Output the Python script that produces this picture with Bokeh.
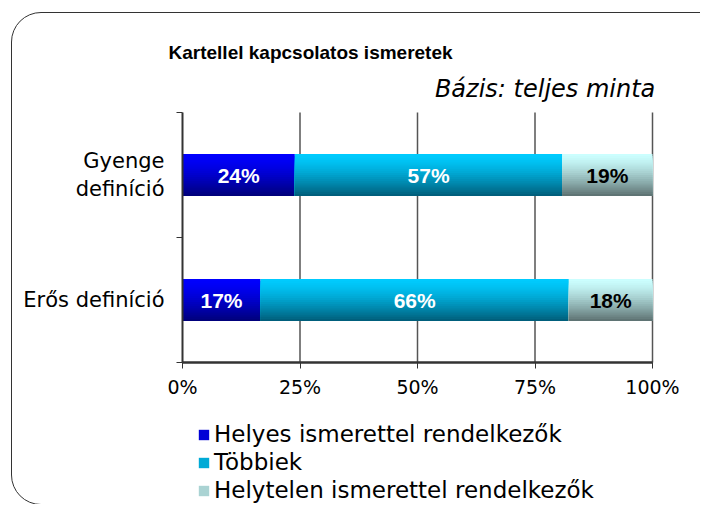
from bokeh.plotting import figure
from bokeh.models import (FixedTicker, Legend, LegendItem, ColumnDataSource, Label, InlineStyleSheet)
from bokeh.core.properties import value
from bokeh.embed import file_html
from bokeh.resources import INLINE

# ---- data ----
categories = ["Erős definíció", "Gyenge\ndefiníció"]
cat_pos = [0.5, 1.5]
helyes = [16.6, 23.9]
tobbiek = [65.6, 56.9]
helytelen = [17.8, 19.2]
series_names = ["Helyes ismerettel rendelkezők", "Többiek", "Helytelen ismerettel rendelkezők"]
x_ticks = [0, 25, 50, 75, 100]
x_tick_labels = ["0%", "25%", "50%", "75%", "100%"]
title_text = "Kartellel kapcsolatos ismeretek"
subtitle_text = "Bázis: teljes minta"

# ---- layout / style ----
W, H = 700, 504
PX_PER_X = 4.7      # pixels per percent
PX_PER_Y = 125.0    # pixels per category band
X0_PX, Y0_PX = 182, 362   # canvas position of the (0%, bottom) corner of the bar area
x_range = (-X0_PX / PX_PER_X, (W - X0_PX) / PX_PER_X)
y_range = (-(H - Y0_PX) / PX_PER_Y, Y0_PX / PX_PER_Y)

FONT = "DejaVu Sans"
BOLD_FONT = "Liberation Sans"
grad = [((0x00, 0x00, 0xFF), (0x00, 0x00, 0x78)),
        ((0x00, 0xCC, 0xFF), (0x00, 0x5C, 0x78)),
        ((0xCC, 0xFF, 0xFF), (0x5C, 0x70, 0x70))]
label_colors = ["white", "white", "black"]
BAR_H = 0.336
NSTRIP = 20

border_css = InlineStyleSheet(css="""
:host { overflow: hidden; }
:host::after {
  content: ''; position: absolute; left: 11px; top: 12px; width: 760px; height: 493px;
  border: 1.5px solid #333333; border-radius: 30px; box-sizing: border-box; pointer-events: none;
}
""")

p = figure(width=W, height=H, output_backend="svg", toolbar_location=None,
           x_range=x_range, y_range=y_range, min_border=0,
           min_border_left=0, min_border_right=0, min_border_top=0, min_border_bottom=0)
p.stylesheets = [border_css]
p.outline_line_color = None
p.background_fill_color = "white"
p.border_fill_color = "white"

# x axis at y = 0, spanning 0..100 %
p.xaxis.fixed_location = 0
p.xaxis.bounds = (0, 100)
p.xaxis.ticker = FixedTicker(ticks=x_ticks)
p.xaxis.major_label_overrides = {t: l for t, l in zip(x_ticks, x_tick_labels)}
p.xaxis.major_label_text_font = FONT
p.xaxis.major_label_text_font_size = "19px"
p.xaxis.major_label_text_color = "black"
p.xaxis.major_tick_out = 6
p.xaxis.major_tick_in = 0
p.xaxis.minor_tick_line_color = None
p.xaxis.axis_line_color = "#333333"
p.xaxis.axis_line_width = 2
p.xaxis.major_tick_line_color = "#333333"
p.xaxis.major_label_standoff = 7

# y axis at x = 0, spanning the two category bands
p.yaxis.fixed_location = 0
p.yaxis.bounds = (0, 2)
p.yaxis.ticker = FixedTicker(ticks=cat_pos, minor_ticks=[0, 1, 2])
p.yaxis.major_label_overrides = {t: l for t, l in zip(cat_pos, categories)}
p.yaxis.major_label_text_font = FONT
p.yaxis.major_label_text_font_size = "21px"
p.yaxis.major_label_text_color = "black"
p.yaxis.major_tick_out = 0
p.yaxis.major_tick_in = 0
p.yaxis.minor_tick_out = 6
p.yaxis.minor_tick_in = 0
p.yaxis.minor_tick_line_color = "#333333"
p.yaxis.axis_line_color = "#333333"
p.yaxis.axis_line_width = 2
p.yaxis.major_label_standoff = 12

p.xgrid.grid_line_color = None
p.ygrid.grid_line_color = None
# vertical gridlines only over the bar area (y 0..2)
p.segment(x0=x_ticks[1:], x1=x_ticks[1:], y0=[0] * 4, y1=[2] * 4,
          line_color="#555555", line_width=1.5)
# category-axis baseline along y = 0 (reinforces the x axis line)
p.segment(x0=[x_ticks[0]], x1=[x_ticks[-1]], y0=[0], y1=[0],
          line_color="#333333", line_width=2)

# stacked bars drawn as vertical-gradient strips (overlapping layers, no seams)
series = [helyes, tobbiek, helytelen]
lefts = [0.0] * len(cat_pos)
legend_items = []
for si, vals in enumerate(series):
    rights = [l + v for l, v in zip(lefts, vals)]
    (r0, g0, b0), (r1, g1, b1) = grad[si]
    leg_r = None
    for k in range(NSTRIP):
        t = (k + 0.5) / NSTRIP
        tt = t ** 1.4
        col = "#%02x%02x%02x" % (int(r0 + (r1 - r0) * tt), int(g0 + (g1 - g0) * tt), int(b0 + (b1 - b0) * tt))
        top_off = BAR_H / 2 - k * BAR_H / NSTRIP
        h = top_off + BAR_H / 2
        ys = [c + top_off - h / 2 for c in cat_pos]
        r = p.hbar(y=ys, left=lefts, right=rights, height=h, fill_color=col, line_color=None)
        if k == NSTRIP // 2 - 2:
            leg_r = r
    legend_items.append(LegendItem(label=series_names[si], renderers=[leg_r]))
    src = ColumnDataSource(dict(x=[(l + r) / 2 for l, r in zip(lefts, rights)], y=cat_pos,
                                t=["%d%%" % round(v) for v in vals]))
    p.text(x="x", y="y", text="t", source=src, text_align="center", text_baseline="middle",
           text_font=value(BOLD_FONT), text_font_style="bold", text_font_size="21px",
           text_color=label_colors[si])
    lefts = rights

legend = Legend(items=legend_items, location=(197, 1), orientation="vertical",
                label_text_font=FONT, label_text_font_size="23px", label_text_color="black",
                glyph_width=13, glyph_height=13, label_standoff=4, spacing=2,
                padding=0, margin=0, label_height=20,
                background_fill_alpha=0, border_line_color=None)
p.add_layout(legend)

# titles
p.add_layout(Label(x=-2.98, y=2.48, text=title_text, text_font=BOLD_FONT,
                   text_font_style="bold", text_font_size="19px", text_align="left",
                   text_baseline="middle", text_color="black"))
p.add_layout(Label(x=100.6, y=2.19, text=subtitle_text, text_font=FONT, text_font_style="italic",
                   text_font_size="24px", text_align="right", text_baseline="middle",
                   text_color="black"))

open("out.html", "w").write(file_html(p, INLINE))
